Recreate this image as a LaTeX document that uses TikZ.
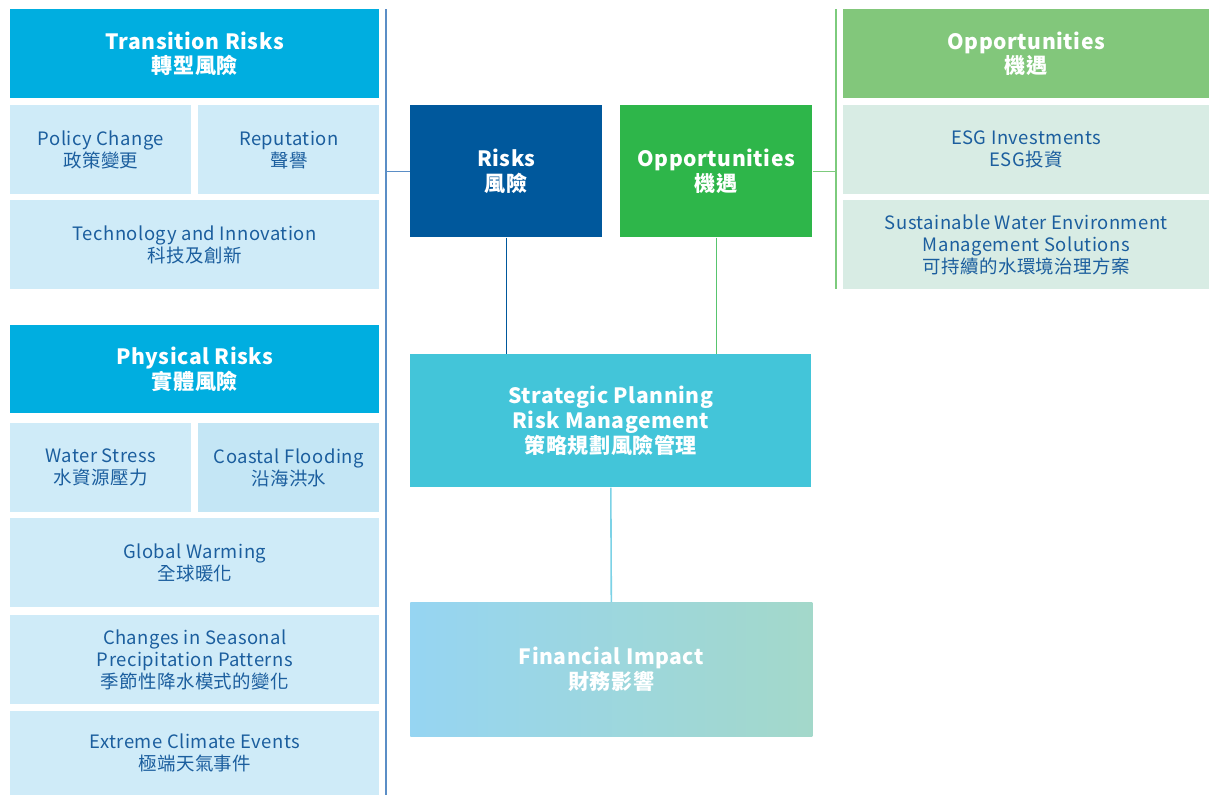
\documentclass[tikz,border=0pt]{standalone}
\usepackage{fontspec}
\setmainfont{Noto Sans CJK TC}[LetterSpace=2.5]

\definecolor{hdrblue}{HTML}{00AEE0}
\definecolor{itemblue}{HTML}{CFEBF8}
\definecolor{coastblue}{HTML}{C4E6F5}
\definecolor{itemtext}{HTML}{1B5E9E}
\definecolor{riskblue}{HTML}{00589C}
\definecolor{oppgreen}{HTML}{2EB64A}
\definecolor{ophgreen}{HTML}{82C77B}
\definecolor{esggreen}{HTML}{D8ECE4}
\definecolor{stratcyan}{HTML}{43C5D9}
\definecolor{finleft}{HTML}{96D5F2}
\definecolor{finright}{HTML}{A3D8CA}
\definecolor{leftline}{HTML}{5B8EC6}
\definecolor{rightline}{HTML}{7DCB7D}
\definecolor{stratline}{HTML}{7CD2E6}

\begin{document}
\begin{tikzpicture}[x=0.02cm,y=-0.02cm]
\tikzstyle{every node}+=[inner sep=0pt, anchor=north west, align=center]
\tikzstyle{head}=[fill=hdrblue, text=white, font=\bfseries\fontsize{12}{14}\selectfont]
\tikzstyle{core}=[text=white, font=\bfseries\fontsize{12}{14}\selectfont, minimum width=3.84cm, minimum height=2.64cm]
\tikzstyle{item}=[fill=itemblue, text=itemtext, font=\fontsize{10.5}{12.5}\selectfont]
\tikzstyle{wide}=[minimum width=7.38cm, minimum height=1.78cm]
\tikzstyle{half}=[minimum width=3.62cm, minimum height=1.78cm]
\tikzstyle{right}=[minimum width=7.32cm, minimum height=1.78cm]
\path [fill=white, use as bounding box] (0,0) rectangle (1209,795);
% transition risks
\node [head,wide] (trans) at (10,9) {Transition Risks\\轉型風險};
\node [item,half] (policy) at (10,105) {Policy Change\\政策變更};
\node [item,half] (reput) at (198,105) {Reputation\\聲譽};
\node [item,wide] (tech) at (10,200) {Technology and Innovation\\科技及創新};
% physical risks
\node [head,wide,minimum height=1.76cm] (phys) at (10,325) {Physical Risks\\實體風險};
\node [item,half] (water) at (10,423) {Water Stress\\水資源壓力};
\node [item,half,fill=coastblue] (coast) at (198,423) {Coastal Flooding\\沿海洪水};
\node [item,wide] (warm) at (10,518) {Global Warming\\全球暖化};
\node [item,wide] (rain) at (10,615) {Changes in Seasonal\\Precipitation Patterns\\季節性降水模式的變化};
\node [item,wide,minimum height=1.68cm] (extreme) at (10,711) {Extreme Climate Events\\極端天氣事件};
% opportunities
\node [head,right,fill=ophgreen] (opphead) at (843,9) {Opportunities\\機遇};
\node [item,right,fill=esggreen] (esg) at (843,105) {ESG Investments\\ESG投資};
\node [item,right,fill=esggreen] (waterenv) at (843,200) {Sustainable Water Environment\\Management Solutions\\可持續的水環境治理方案};
% middle
\node [core,fill=riskblue] (risk) at (410,105) {Risks\\風險};
\node [core,fill=oppgreen] (opp) at (620,105) {Opportunities\\機遇};
\node [core,fill=stratcyan,minimum width=8.02cm,minimum height=2.66cm] (strat) at (410,354) {Strategic Planning\\Risk Management\\策略規劃風險管理};
\node [core,left color=finleft,right color=finright,minimum width=8.04cm,minimum height=2.68cm] (fin) at (410,602) {Financial Impact\\財務影響};
% connectors
\coordinate (ltop) at (386,9);
\coordinate (lbot) at (386,795);
\coordinate (rtop) at (836,9);
\coordinate (rbot) at (836,289);
\draw [leftline, line width=1.1pt] (ltop) -- (lbot);
\draw [leftline, line width=0.8pt] (risk.west) -- (risk.west -| ltop);
\draw [rightline, line width=1.1pt] (rtop) -- (rbot);
\draw [rightline, line width=0.8pt] (opp.east) -- (opp.east -| rtop);
\draw [riskblue, line width=0.8pt] (risk.south) -- (risk.south |- strat.north);
\draw [oppgreen!80, line width=0.8pt] (opp.south) -- (opp.south |- strat.north);
\draw [stratline, line width=0.9pt] (strat.south) -- (fin.north);
\end{tikzpicture}
\end{document}
